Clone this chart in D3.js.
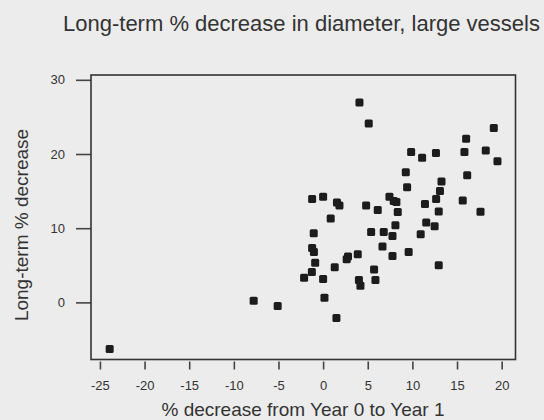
<!DOCTYPE html>
<html>
<head>
<meta charset="utf-8">
<script src="https://cdn.jsdelivr.net/npm/d3@7/dist/d3.min.js"></script>
<style>
  body { margin: 0; background: #ececec; }
  svg { display: block; font-family: "Liberation Sans", Arial, sans-serif; }
</style>
</head>
<body>
<svg id="chart" width="544" height="420"></svg>
<script>
// % decrease from year 0 to year 1 (x) vs long-term % decrease (y)
var xVals = [4.07, 5.11, 19.12, 16.02, 9.86, 11.09, 12.64, 15.83, 18.22, 19.53,
  9.26, 16.14, 9.41, 13.26, 13.09, 12.66, 15.64, -1.23, 0.00, 1.55,
  1.83, 4.82, 6.12, 7.43, 7.91, 8.21, 8.36, 11.41, 12.95, 17.63,
  0.85, 8.10, 11.55, 12.49, -1.05, 5.38, 6.79, 7.77, 10.93, -1.23,
  -1.03, 6.65, 3.88, 2.79, 2.64, 9.58, 7.77, -0.89, 1.30, 12.95,
  5.71, -1.26, -2.13, 0.00, 4.01, 4.18, 5.86, 0.15, -5.09, -7.78,
  1.49, -23.91]
var yVals = [26.95, 24.10, 23.52, 22.04, 20.28, 19.51, 20.12, 20.28, 20.46, 19.03,
  17.54, 17.14, 15.53, 16.28, 15.02, 13.94, 13.74, 13.94, 14.25, 13.47,
  13.06, 13.06, 12.46, 14.25, 13.67, 13.54, 12.19, 13.27, 12.25, 12.23,
  11.31, 10.39, 10.77, 10.26, 9.31, 9.49, 9.49, 8.95, 9.18, 7.33,
  6.79, 7.53, 6.49, 6.18, 5.82, 6.79, 6.25, 5.34, 4.74, 4.99,
  4.43, 4.09, 3.31, 3.14, 3.01, 2.24, 3.01, 0.61, -0.50, 0.22,
  -2.12, -6.30]
var xTicks = [-25, -20, -15, -10, -5, 0, 5, 10, 15, 20]
var yTicks = [0, 10, 20, 30]

var svg = d3.select('#chart')
var x = d3.scaleLinear().domain([-26.0, 21.55]).range([91, 515.5])
var y = d3.scaleLinear().domain([-7.7, 30.65]).range([359.5, 75])

/** title */
svg.append('text').attr('x', 63).attr('y', 31).attr('fill', '#333')
  .style('font-size', '22px').text('Long-term % decrease in diameter, large vessels')

/** axes - plain hyphen for negatives like the original */
var fmt = function (d) { return String(d) }
var xAxis = svg.append('g').attr('transform', 'translate(0,361.5)')
  .call(d3.axisBottom(x).tickValues(xTicks).tickFormat(fmt).tickSize(8).tickPadding(11))
var yAxis = svg.append('g').attr('transform', 'translate(91,0)')
  .call(d3.axisLeft(y).tickValues(yTicks).tickFormat(fmt).tickSize(15).tickPadding(11))
;[xAxis, yAxis].forEach(function (g) {
  g.select('.domain').remove()
  g.selectAll('line').attr('stroke', '#444').attr('stroke-width', 1.6)
  g.selectAll('text').attr('fill', '#333').style('font-size', '13px').style('font-family', '"Liberation Sans", Arial, sans-serif')
})

/** plot frame */
svg.append('rect').attr('x', x.range()[0]).attr('y', y.range()[1])
  .attr('width', x.range()[1] - x.range()[0]).attr('height', y.range()[0] - y.range()[1])
  .attr('fill', 'none').attr('stroke', '#333').attr('stroke-width', 1.6)

/** axis titles */
svg.append('text').attr('x', 303).attr('y', 416).attr('text-anchor', 'middle').attr('fill', '#333')
  .style('font-size', '19px').text('% decrease from Year 0 to Year 1')
svg.append('text').attr('transform', 'translate(28,225) rotate(-90)').attr('text-anchor', 'middle')
  .attr('fill', '#333').style('font-size', '19px').text('Long-term % decrease')

/** points */
svg.append('g').selectAll('rect').data(d3.range(xVals.length)).enter().append('rect')
  .attr('x', function (i) { return x(xVals[i]) - 4 })
  .attr('y', function (i) { return y(yVals[i]) - 4 })
  .attr('width', 8).attr('height', 8).attr('rx', 1.5)
  .attr('fill', '#1c1c1c')
</script>
</body>
</html>
